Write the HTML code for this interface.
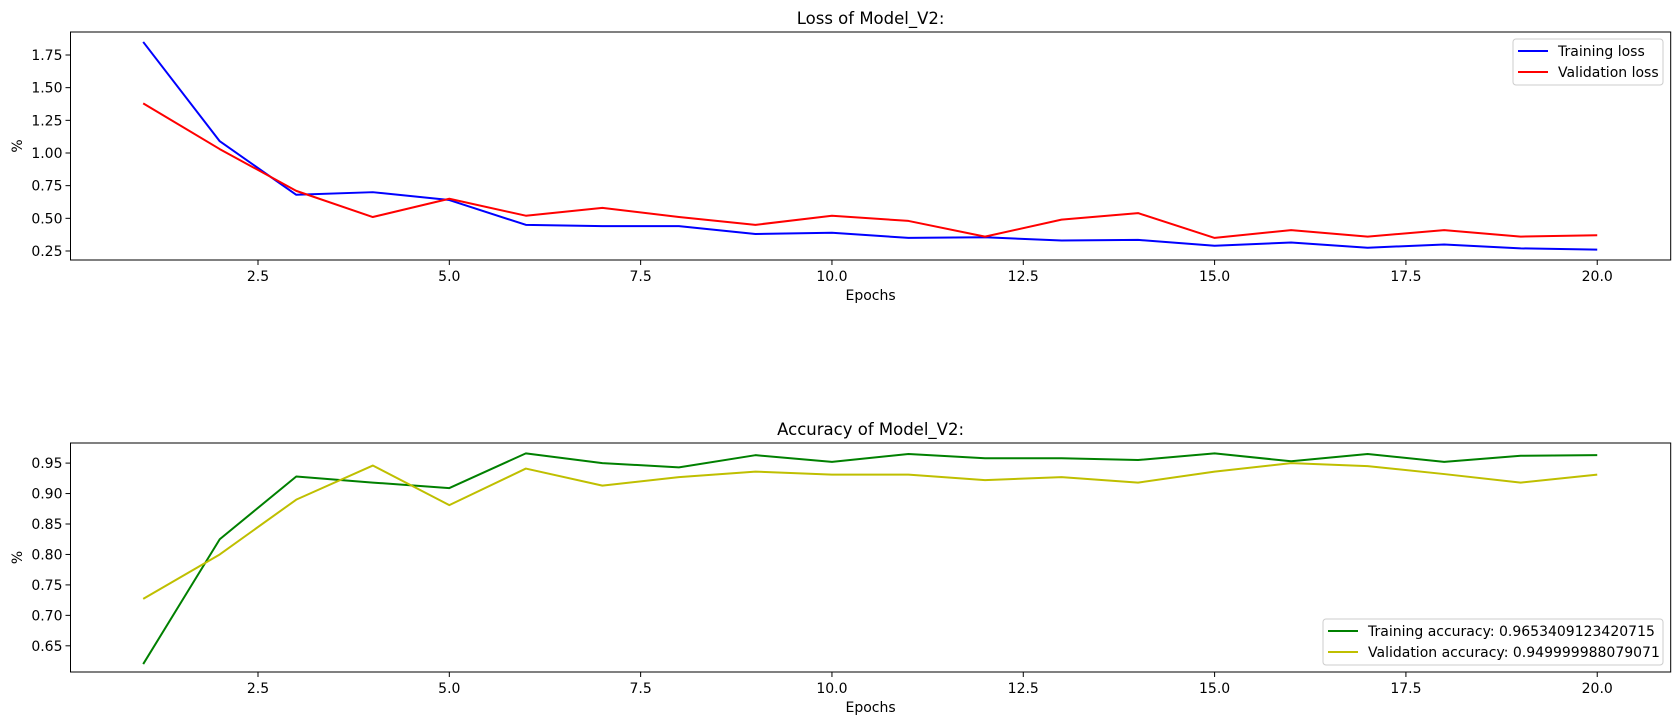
<!DOCTYPE html>
<html><head><meta charset="utf-8"><style>
body{margin:0;background:#fff;}
svg{display:block;font-family:"DejaVu Sans","Liberation Sans",sans-serif;}
</style></head><body>
<svg id="chart" width="1680" height="725" viewBox="0 0 1680 725"></svg>
<script>
const epochs=[1,2,3,4,5,6,7,8,9,10,11,12,13,14,15,16,17,18,19,20];
const trainLoss=[1.85,1.09,0.68,0.70,0.64,0.45,0.44,0.44,0.38,0.39,0.35,0.355,0.33,0.335,0.29,0.315,0.275,0.30,0.27,0.26];
const valLoss=[1.38,1.03,0.71,0.51,0.65,0.52,0.58,0.51,0.45,0.52,0.48,0.36,0.49,0.54,0.35,0.41,0.36,0.41,0.36,0.37];
const trainAcc=[0.62,0.825,0.928,0.918,0.909,0.966,0.950,0.943,0.963,0.952,0.965,0.958,0.958,0.955,0.966,0.953,0.965,0.952,0.962,0.963];
const valAcc=[0.727,0.80,0.89,0.946,0.881,0.941,0.913,0.927,0.936,0.931,0.931,0.922,0.927,0.918,0.936,0.95,0.945,0.932,0.918,0.931];
const xTicks=[2.5,5.0,7.5,10.0,12.5,15.0,17.5,20.0];
const lossTicks=[0.25,0.50,0.75,1.00,1.25,1.50,1.75];
const accTicks=[0.65,0.70,0.75,0.80,0.85,0.90,0.95];

const NS="http://www.w3.org/2000/svg";
const svg=document.getElementById('chart');
function mk(tag,attrs,parent,text){const e=document.createElementNS(NS,tag);for(const k in attrs)e.setAttribute(k,attrs[k]);if(text!==undefined)e.textContent=text;(parent||svg).appendChild(e);return e;}
const L=70.5,R=1670.7;
const xs=v=>L+(v-0.05)/(20.96-0.05)*(R-L);

function panel(cfg){
  const g=mk('g',{});
  
  
  const ys=v=>cfg.bot-(v-cfg.ymin)/(cfg.ymax-cfg.ymin)*(cfg.bot-cfg.top);
  xTicks.forEach(t=>{
    const x=xs(t);
    const tk=mk('line',{x1:x,x2:x,y1:cfg.bot,y2:cfg.bot+5,stroke:'#000','stroke-width':1},g);
    
    
    const tl=mk('text',{x:x,y:cfg.bot+21,'font-size':14,'text-anchor':'middle',fill:'#000'},g,t.toFixed(1));
    
    
  });
  cfg.yt.forEach(t=>{
    const y=ys(t);
    const tk=mk('line',{x1:L-5,x2:L,y1:y,y2:y,stroke:'#000','stroke-width':1},g);
    
    
    const tl=mk('text',{x:L-8,y:y+5,'font-size':14,'text-anchor':'end',fill:'#000'},g,t.toFixed(2));
    
    
  });
  cfg.series.forEach(s=>{
    const p=mk('polyline',{points:epochs.map((e,i)=>xs(e)+','+ys(s.data[i])).join(' '),fill:'none',stroke:s.color,'stroke-width':2,'stroke-linejoin':'round'},g);
    
    
  });
  const fr=mk('rect',{x:L,y:cfg.top,width:R-L,height:cfg.bot-cfg.top,fill:'none',stroke:'#000','stroke-width':1},g);
  
  
  const ti=mk('text',{x:(L+R)/2,y:cfg.top-8,'font-size':16.5,'text-anchor':'middle',fill:'#000'},g,cfg.title);
  
  
  const xl=mk('text',{x:(L+R)/2,y:cfg.bot+40,'font-size':14,'text-anchor':'middle',fill:'#000'},g,'Epochs');
  
  
  const cy=(cfg.top+cfg.bot)/2;
  const yl=mk('text',{x:22,y:cy,'font-size':14,'text-anchor':'middle',fill:'#000',transform:'rotate(-90 22 '+cy+')'},g,'%');
  
  
  const lg=mk('g',{},g);
  
  
  const b=cfg.leg;
  mk('rect',{x:b.x,y:b.y,width:b.w,height:46,rx:3,fill:'#fff','fill-opacity':0.8,stroke:'#ccc','stroke-width':1},lg);
  cfg.series.forEach((s,i)=>{
    const yy=b.y+12+i*21;
    const le=mk('g',{},lg);
    
    
    mk('line',{x1:b.x+5,x2:b.x+35,y1:yy,y2:yy,stroke:s.color,'stroke-width':2},le);
    mk('text',{x:b.x+45,y:yy+5,'font-size':14,fill:'#000'},le,s.label);
  });
}
panel({name:'loss-chart',title:'Loss of Model_V2:',top:32,bot:260,ymin:0.181,ymax:1.926,yt:lossTicks,
  leg:{x:1513,y:39,w:150},
  series:[{name:'training-loss-line',label:'Training loss',color:'#0000ff',data:trainLoss},
          {name:'validation-loss-line',label:'Validation loss',color:'#ff0000',data:valLoss}]});
panel({name:'accuracy-chart',title:'Accuracy of Model_V2:',top:443,bot:672,ymin:0.607,ymax:0.983,yt:accTicks,
  leg:{x:1323,y:619,w:340},
  series:[{name:'training-accuracy-line',label:'Training accuracy: 0.9653409123420715',color:'#008000',data:trainAcc},
          {name:'validation-accuracy-line',label:'Validation accuracy: 0.949999988079071',color:'#bfbf00',data:valAcc}]});
</script>
</body></html>
